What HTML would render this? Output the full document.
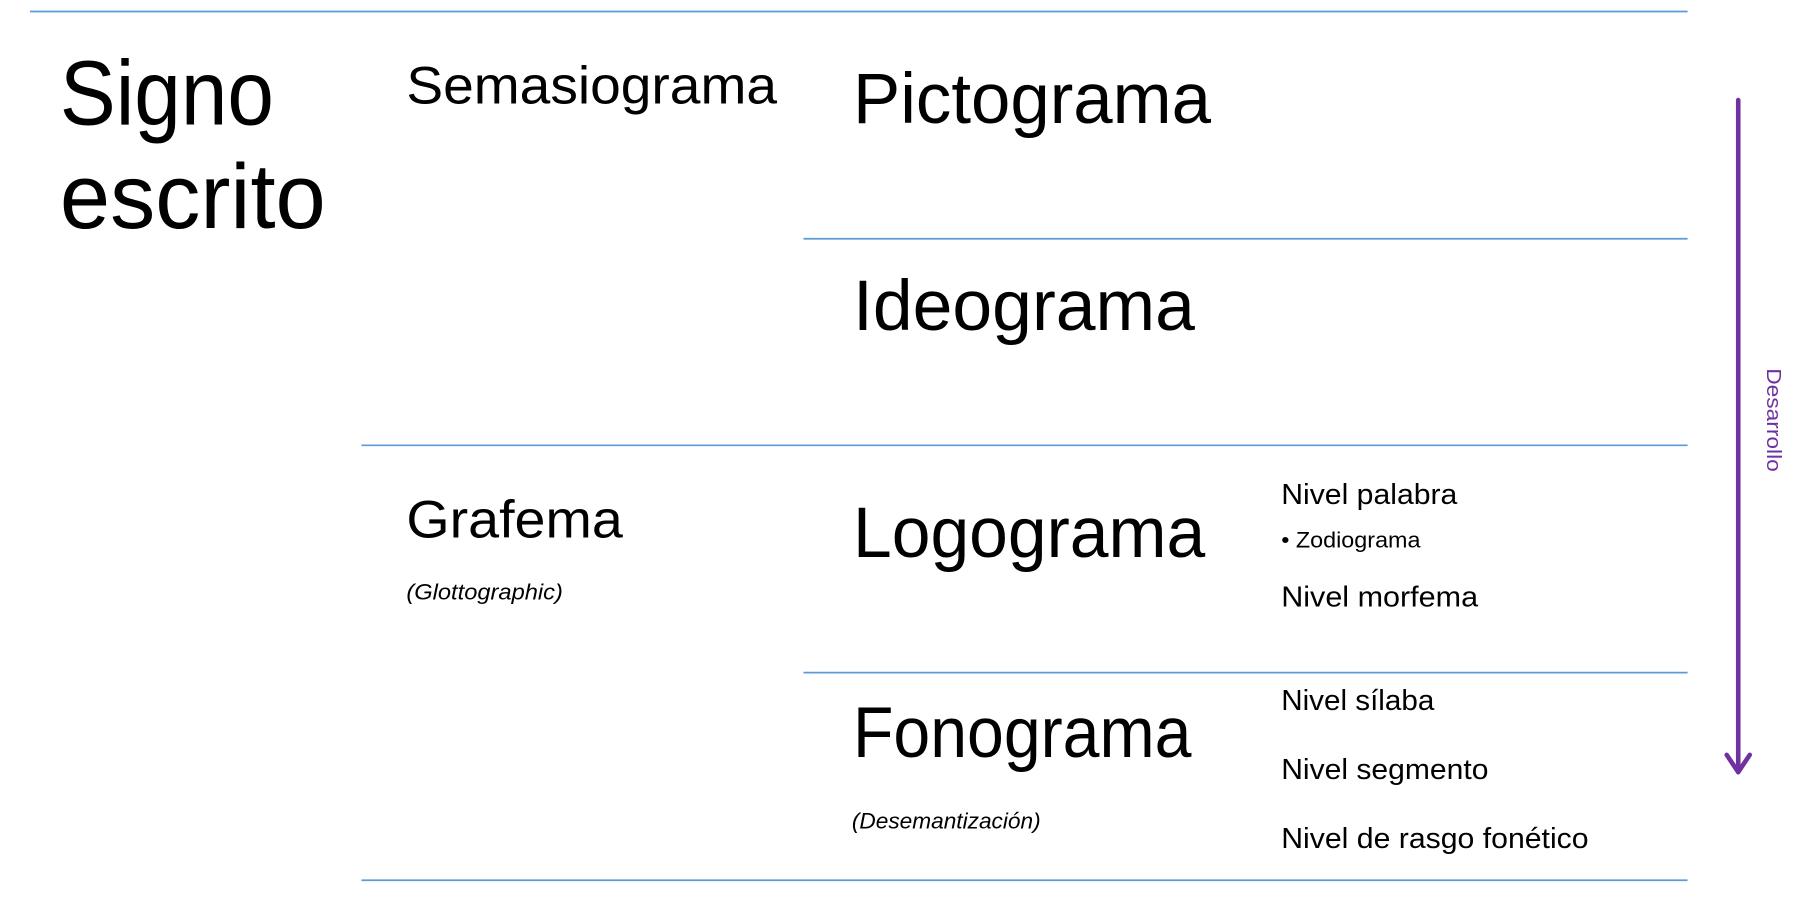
<!DOCTYPE html>
<html><head><meta charset="utf-8"><style>
html,body{margin:0;padding:0;background:#fff;}
svg{display:block;}
text{font-family:"Liberation Sans",sans-serif;fill:#000;}
</style></head><body>
<svg width="1805" height="901" viewBox="0 0 1568 783" preserveAspectRatio="none" xmlns="http://www.w3.org/2000/svg">
<g stroke="#5b9bd5" stroke-width="1.5">
<line x1="26" y1="10" x2="1466" y2="10"/>
<line x1="698" y1="207.5" x2="1466" y2="207.5"/>
<line x1="314" y1="387" x2="1466" y2="387"/>
<line x1="698" y1="584.5" x2="1466" y2="584.5"/>
<line x1="314" y1="765" x2="1466" y2="765"/>
</g>
<text x="52" y="108" font-size="80" textLength="186" lengthAdjust="spacingAndGlyphs">Signo</text>
<text x="52" y="198" font-size="80" textLength="231" lengthAdjust="spacingAndGlyphs">escrito</text>
<text x="353" y="90" font-size="46" textLength="322" lengthAdjust="spacingAndGlyphs">Semasiograma</text>
<text x="741" y="107" font-size="62" textLength="311" lengthAdjust="spacingAndGlyphs">Pictograma</text>
<text x="741" y="287" font-size="62" textLength="297" lengthAdjust="spacingAndGlyphs">Ideograma</text>
<text x="353" y="467" font-size="46" textLength="188" lengthAdjust="spacingAndGlyphs">Grafema</text>
<text x="353" y="521" font-size="19" font-style="italic" textLength="136" lengthAdjust="spacingAndGlyphs">(Glottographic)</text>
<text x="741" y="484" font-size="62" textLength="306" lengthAdjust="spacingAndGlyphs">Logograma</text>
<text x="741" y="658" font-size="62" textLength="294" lengthAdjust="spacingAndGlyphs">Fonograma</text>
<text x="740" y="720" font-size="19" font-style="italic" textLength="164" lengthAdjust="spacingAndGlyphs">(Desemantización)</text>
<text x="1113" y="438" font-size="25" textLength="153" lengthAdjust="spacingAndGlyphs">Nivel palabra</text>
<text x="1113" y="476" font-size="19" textLength="121" lengthAdjust="spacingAndGlyphs">• Zodiograma</text>
<text x="1113" y="527" font-size="25" textLength="171" lengthAdjust="spacingAndGlyphs">Nivel morfema</text>
<text x="1113" y="617" font-size="25" textLength="133" lengthAdjust="spacingAndGlyphs">Nivel sílaba</text>
<text x="1113" y="677" font-size="25" textLength="180" lengthAdjust="spacingAndGlyphs">Nivel segmento</text>
<text x="1113" y="737" font-size="25" textLength="267" lengthAdjust="spacingAndGlyphs">Nivel de rasgo fonético</text>
<g stroke="#7030a0" stroke-width="4" fill="none" stroke-linecap="round" stroke-linejoin="round">
<line x1="1510" y1="87" x2="1510" y2="671"/>
<polyline points="1500,656 1510,671 1520,656"/>
</g>
<text transform="translate(1535,320) rotate(90)" font-size="18" style="fill:#7030a0" textLength="90" lengthAdjust="spacingAndGlyphs">Desarrollo</text>
</svg>
</body></html>
